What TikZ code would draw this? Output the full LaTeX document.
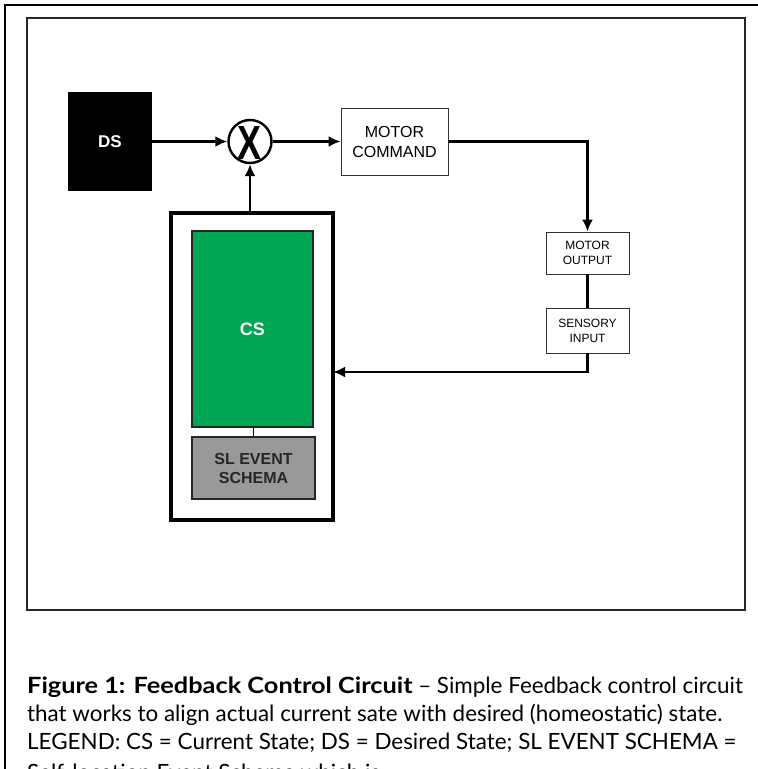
\documentclass[tikz,border=0pt]{standalone}
\usepackage{fontspec}
\setmainfont{Lato}
\setsansfont{Liberation Sans}
\usepackage{tikz}
\usetikzlibrary{arrows.meta}
\usetikzlibrary{positioning}
\definecolor{csgreen}{HTML}{00A651}
\definecolor{slgrey}{HTML}{999999}
\tikzset{
  wire/.style={line width=2.4pt, -{Latex[length=12pt,width=11pt]}},
  plainbox/.style={draw=black!80, line width=0.9pt, fill=white, align=center, font=\sffamily\fontsize{16}{20}\selectfont, inner sep=0pt},
  smallbox/.style={plainbox, font=\sffamily\fontsize{12}{15}\selectfont},
  capline/.style={anchor=base west, inner sep=0pt, font=\fontsize{22.4}{28}\selectfont}
}
\newcommand{\capbold}[1]{\scalebox{1.13}[1]{\textbf{#1}}}
\begin{document}
\begin{tikzpicture}[x=1pt, y=-1pt]
      \useasboundingbox (0, 0) rectangle (758, 769);
      \clip (0, 0) rectangle (758, 769);
      \fill[white] (0, 0) rectangle (758, 769);

      % frames
      \draw[line width=2.6pt] (5, 780) -- (5, 5) -- (770, 5);
      \draw[draw=black!85, line width=1.3pt] (27, 18) rectangle (745, 610);

      % blocks
      \node[fill=black, minimum width=84, minimum height=99, text=white, font=\sffamily\bfseries\fontsize{17}{20}\selectfont] (ds) at (110, 141.5) {DS};
      \node[draw, circle, line width=2.4pt, minimum size=43, inner sep=0pt] (mult) at (250, 141.5) {};
      \node[font=\sffamily\bfseries\fontsize{48}{48}\selectfont, xscale=0.75, inner sep=0pt] (multx) at (250, 142.5) {X};
      \node[plainbox, minimum width=107, minimum height=67] (cmd) at (394.5, 141.5) {MOTOR\\COMMAND};
      \node[smallbox, minimum width=83, minimum height=42] (out) at (587.5, 253) {MOTOR\\OUTPUT};
      \node[smallbox, minimum width=83, minimum height=45] (sens) at (587.5, 330.5) {SENSORY\\INPUT};

      \node[draw, line width=4pt, minimum width=162, minimum height=307] (cont) at (252, 366.5) {};
      \node[draw=black!85, line width=2.4pt, fill=csgreen, minimum width=121, minimum height=196, text=white, font=\sffamily\bfseries\fontsize{18}{20}\selectfont] (cs) at (252.5, 329) {CS};
      \node[draw=black!85, line width=2.4pt, fill=slgrey, minimum width=123, minimum height=62, align=center, text=black!85, font=\sffamily\bfseries\fontsize{16}{19}\selectfont] (sl) at (253.5, 468) {SL EVENT\\SCHEMA};
      \coordinate (fbin) at (333, 372);

      % connectors
      \draw[wire] (ds.east) -- (mult.west);
      \draw[wire] (mult.east) -- (cmd.west);
      \draw[wire] (cmd.east) -| (out.north);
      \draw[line width=2.4pt] (out.south) -- (sens.north);
      \draw[wire] (sens.south) |- (fbin);
      \draw[wire] (mult.south |- cont.north) -- (mult.south);
      \draw[line width=1.8pt] (cs.south -| sl.north) -- (sl.north);

      % caption
      \node[capline] (cap1) at (27, 693) {\capbold{Figure 1: Feedback Control Circuit} -- Simple Feedback control circuit};
      \node[capline] (cap2) at (27, 721) {that works to align actual current sate with desired (homeostatic) state.};
      \node[capline] (cap3) at (27, 749) {LEGEND: CS = Current State; DS = Desired State; SL EVENT SCHEMA =};
      \node[capline] (cap4) at (27, 780) {Self-location Event Schema which is};
    \end{tikzpicture}
\end{document}
